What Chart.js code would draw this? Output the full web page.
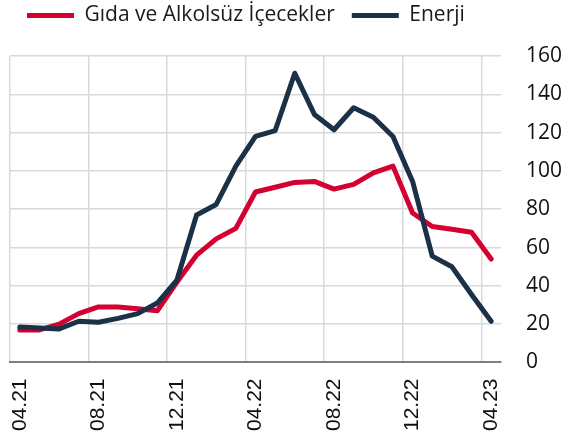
<!DOCTYPE html>
<html>
<head>
<meta charset="utf-8">
<script src="https://cdn.jsdelivr.net/npm/chart.js@4.4.1/dist/chart.umd.min.js"></script>
<style>
  html, body { margin: 0; padding: 0; background: #fff; }
  #wrap { width: 569px; height: 441px; }
</style>
</head>
<body>
<div id="wrap"><canvas id="chart"></canvas></div>
<script>
const months = ['04.21','05.21','06.21','07.21','08.21','09.21','10.21','11.21','12.21','01.22','02.22','03.22',
                '04.22','05.22','06.22','07.22','08.22','09.22','10.22','11.22','12.22','01.23','02.23','03.23','04.23'];
const gida = [17, 17, 20, 25.5, 29, 29, 28, 27, 42, 56, 64.5, 70, 89, 91.5, 94, 94.5, 90.5, 93, 99, 102.5, 78, 71, 69.5, 68, 54];
const enerji = [18.5, 18, 17.5, 21.5, 21, 23, 25.5, 31, 43, 77, 82.5, 102.5, 118, 121, 151, 129.5, 121.5, 133, 128, 118, 94.5, 55.5, 50, 35.5, 21.5];
const yTicks = [0, 20, 40, 60, 80, 100, 120, 140, 160];

const RED = '#d50032';
const NAVY = '#1b3147';
const GRID = '#d9d9d9';

// legend sits higher, with a gap below it
const legendGap = {
    id: 'legendGap',
    beforeUpdate(chart) {
        const lg = chart.legend;
        if (!lg || lg._gapPatched) return;
        const fit = lg.fit;
        lg.fit = function () { fit.call(this); this.height += 20; };
        lg._gapPatched = true;
    }
};

new Chart(document.getElementById('chart'), {
    type: 'line',
    data: {
        labels: months,
        datasets: [
            { label: 'Gıda ve Alkolsüz İçecekler', data: gida, borderColor: RED, backgroundColor: RED, borderWidth: 5, order: 1 },
            { label: 'Enerji', data: enerji, borderColor: NAVY, backgroundColor: NAVY, borderWidth: 5, order: 0 }
        ]
    },
    options: {
        responsive: true, maintainAspectRatio: false, animation: false,
        layout: { autoPadding: false, padding: { top: -12, left: 10, right: -18, bottom: -6 } },
        elements: {
            line: { tension: 0, borderCapStyle: 'round', borderJoinStyle: 'round' },
            point: { radius: 0 }
        },
        plugins: {
            tooltip: { enabled: false },
            legend: {
                position: 'top', align: 'start',
                labels: {
                    usePointStyle: true, pointStyle: 'line', pointStyleWidth: 47, padding: 17,
                    color: '#1a1a1a', font: { family: "'Open Sans'", size: 21 },
                    sort: (a, b) => a.datasetIndex - b.datasetIndex
                }
            }
        },
        scales: {
            x: {
                offset: true,
                grid: {
                    offset: true, drawTicks: false, lineWidth: 1.5,
                    color: ctx => (ctx.index !== undefined && ctx.index % 4 === 0) ? GRID : 'transparent'
                },
                border: { display: true, color: '#808080', width: 2 },
                ticks: {
                    autoSkip: false, minRotation: 90, maxRotation: 90, padding: 16, color: '#111',
                    font: { family: "'Liberation Sans', Arial", size: 21 },
                    callback: (v, i) => i % 4 === 0 ? months[i] : ''
                }
            },
            y: {
                position: 'right', min: 0, max: 160,
                afterBuildTicks: s => { s.ticks = yTicks.map(v => ({ value: v })); },
                grid: {
                    drawTicks: false, lineWidth: 1.5,
                    color: ctx => ctx.tick && ctx.tick.value === 0 ? 'transparent' : GRID
                },
                border: { display: false },
                ticks: { padding: 25, color: '#111', font: { family: "'Open Sans'", size: 21 } }
            }
        }
    },
    plugins: [legendGap]
});
</script>
</body>
</html>
